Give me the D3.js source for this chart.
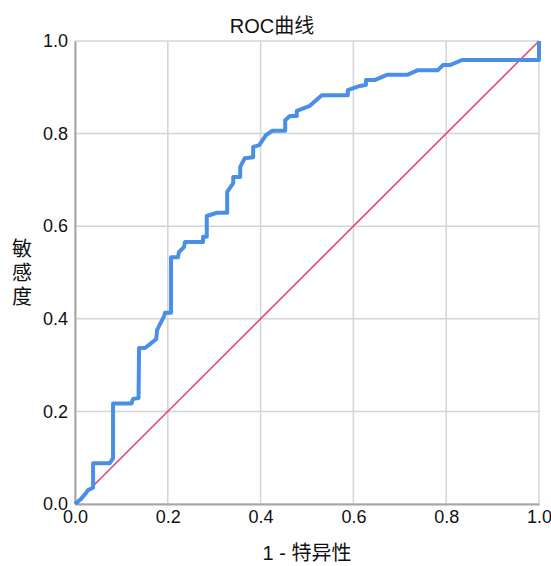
<!DOCTYPE html>
<html>
<head>
<meta charset="utf-8">
<script src="https://cdn.jsdelivr.net/npm/d3@7"></script>
<style>
  body { margin: 0; background: #fff; }
  text { font-family: "Liberation Sans", Arial, "Noto Sans CJK SC", sans-serif; fill: #111; }
</style>
</head>
<body>
<div id="chart"></div>
<script>
"use strict";
// 1 - specificity (false positive rate)
const fpr = [0, 0.013, 0.024, 0.028, 0.039, 0.039, 0.075, 0.082, 0.082, 0.122, 0.125, 0.137, 0.138,
  0.151, 0.175, 0.177, 0.192, 0.194, 0.207, 0.207, 0.222, 0.224, 0.235, 0.237, 0.276, 0.276, 0.284,
  0.284, 0.306, 0.328, 0.328, 0.341, 0.341, 0.356, 0.356, 0.366, 0.384, 0.384, 0.397, 0.412, 0.425,
  0.453, 0.453, 0.463, 0.478, 0.478, 0.506, 0.532, 0.588, 0.588, 0.614, 0.627, 0.627, 0.647, 0.672,
  0.716, 0.739, 0.782, 0.793, 0.808, 0.834, 1.0, 1.0];
// sensitivity (true positive rate)
const tpr = [0, 0.011, 0.024, 0.030, 0.035, 0.088, 0.088, 0.099, 0.217, 0.217, 0.227, 0.229, 0.337,
  0.337, 0.356, 0.376, 0.406, 0.413, 0.413, 0.533, 0.533, 0.544, 0.555, 0.566, 0.566, 0.577, 0.577,
  0.622, 0.629, 0.629, 0.674, 0.693, 0.706, 0.706, 0.728, 0.747, 0.749, 0.771, 0.775, 0.797, 0.806,
  0.806, 0.829, 0.838, 0.838, 0.849, 0.860, 0.883, 0.883, 0.894, 0.903, 0.905, 0.916, 0.916, 0.927,
  0.927, 0.937, 0.937, 0.948, 0.948, 0.959, 0.959, 1.0];
const refLine = [[0, 0], [1, 1]];
const ticks = [0, 0.2, 0.4, 0.6, 0.8, 1.0];
const title = "ROC曲线";
const xTitle = "1 - 特异性";
const yTitle = ["敏", "感", "度"];

const width = 551;
const height = 566;
const margin = { top: 41, right: 12, bottom: 62, left: 75 };

const svg = d3.select("#chart")
    .append("svg")
    .attr("width", width)
    .attr("height", height);

const xScale = d3.scaleLinear()
    .domain([0, 1])
    .range([margin.left, width - margin.right]);
const yScale = d3.scaleLinear()
    .domain([0, 1])
    .range([height - margin.bottom, margin.top]);

// grid
svg.append("g")
    .selectAll("line")
    .data(ticks)
    .enter()
    .append("line")
    .attr("x1", d => xScale(d))
    .attr("x2", d => xScale(d))
    .attr("y1", yScale(0))
    .attr("y2", yScale(1))
    .attr("stroke", "#d4d4d4")
    .attr("stroke-width", 1.5);
svg.append("g")
    .selectAll("line")
    .data(ticks)
    .enter()
    .append("line")
    .attr("x1", xScale(0))
    .attr("x2", xScale(1))
    .attr("y1", d => yScale(d))
    .attr("y2", d => yScale(d))
    .attr("stroke", "#d4d4d4")
    .attr("stroke-width", 1.5);

// axes
const xAxis = d3.axisBottom(xScale).tickValues(ticks).tickFormat(d3.format(".1f")).tickSize(0).tickPadding(6);
const yAxis = d3.axisLeft(yScale).tickValues(ticks).tickFormat(d3.format(".1f")).tickSize(0).tickPadding(7);
const gx = svg.append("g")
    .attr("transform", `translate(0, ${yScale(0)})`)
    .call(xAxis);
const gy = svg.append("g")
    .attr("transform", `translate(${xScale(0)}, 0)`)
    .call(yAxis);
[gx, gy].forEach(g => {
    g.select(".domain").attr("stroke", "#a6a6a6").attr("stroke-width", 2);
    g.selectAll("text").style("font-size", "18px").attr("fill", "#111");
});

// reference diagonal
const line = d3.line().x(d => xScale(d[0])).y(d => yScale(d[1]));
svg.append("path")
    .datum(refLine)
    .attr("d", line)
    .attr("fill", "none")
    .attr("stroke", "#e2487a")
    .attr("stroke-width", 1.6);

// ROC curve
const rocPoints = fpr.map((f, i) => [f, tpr[i]]);
svg.append("path")
    .datum(rocPoints)
    .attr("d", line)
    .attr("fill", "none")
    .attr("stroke", "#4a8fe6")
    .attr("stroke-width", 4)
    .attr("stroke-linejoin", "round");

// titles
svg.append("text")
    .attr("x", 272)
    .attr("y", 33)
    .attr("text-anchor", "middle")
    .style("font-size", "20px")
    .text(title);
svg.append("text")
    .attr("x", (xScale(0) + xScale(1)) / 2)
    .attr("y", 560)
    .attr("text-anchor", "middle")
    .style("font-size", "20px")
    .text(xTitle);
svg.append("g")
    .selectAll("text")
    .data(yTitle)
    .enter()
    .append("text")
    .attr("x", 22)
    .attr("y", (d, i) => 256 + i * 24)
    .attr("text-anchor", "middle")
    .style("font-size", "20px")
    .text(d => d);
</script>
</body>
</html>
